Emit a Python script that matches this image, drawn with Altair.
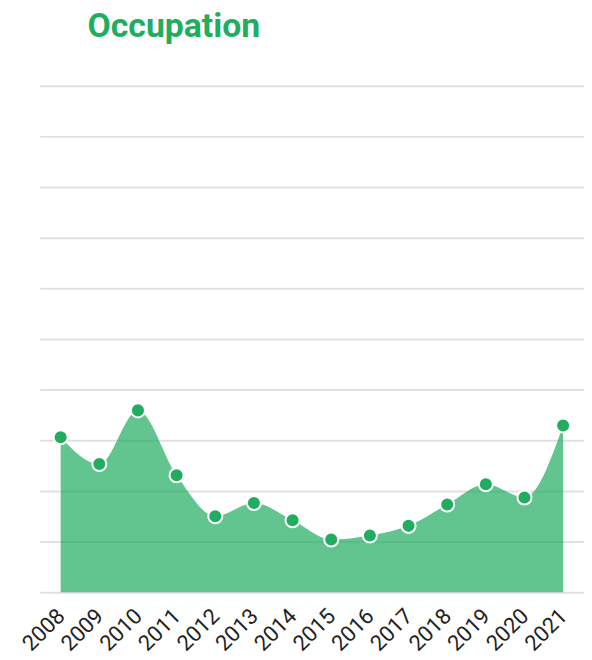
import altair as alt
import pandas as pd

years = ["2008", "2009", "2010", "2011", "2012", "2013", "2014",
         "2015", "2016", "2017", "2018", "2019", "2020", "2021"]
values = [3.06, 2.53, 3.59, 2.31, 1.50, 1.76, 1.42,
          1.04, 1.12, 1.31, 1.73, 2.13, 1.87, 3.29]
y_ticks = [0, 1, 2, 3, 4, 5, 6, 7, 8, 9, 10]
title_text = ["Occupation"]

df = pd.DataFrame({"year": years, "value": values})
tdf = pd.DataFrame({"t": title_text})

GREEN = "#20ad60"

x = alt.X("year:O", scale=alt.Scale(type="point", padding=0.54),
          axis=alt.Axis(title=None, labelAngle=-45, labelFontSize=22,
                        labelFont="Roboto", labelColor="#222222",
                        labelAlign="right", labelBaseline="middle",
                        ticks=False, domain=False, grid=False, labelPadding=20))
y = alt.Y("value:Q", scale=alt.Scale(domain=[0, 10], nice=False),
          axis=alt.Axis(title=None, labels=False, ticks=False, domain=False,
                        values=y_ticks, grid=True, gridColor="#e0e0e0",
                        gridWidth=2))

area = alt.Chart(df).mark_area(interpolate="monotone", color=GREEN,
                               opacity=0.7).encode(x=x, y=y)
points = alt.Chart(df).mark_point(filled=True, shape="circle", size=200,
                                  color=GREEN, stroke="white", strokeWidth=2,
                                  opacity=1).encode(x=x, y="value:Q")
title = alt.Chart(tdf).mark_text(align="left", baseline="alphabetic",
                                 font="Roboto", fontSize=34, fontWeight="bold",
                                 color=GREEN).encode(
    text="t:N", x=alt.value(48), y=alt.value(-49))

chart = alt.layer(area, points, title).properties(
    width=548, height=510,
    autosize=alt.AutoSizeParams(type="none"),
    padding={"left": 32, "top": 76, "right": 0, "bottom": 66},
).configure_view(stroke=None)

chart.save("out.html", embed_options={"renderer": "svg", "actions": False})
